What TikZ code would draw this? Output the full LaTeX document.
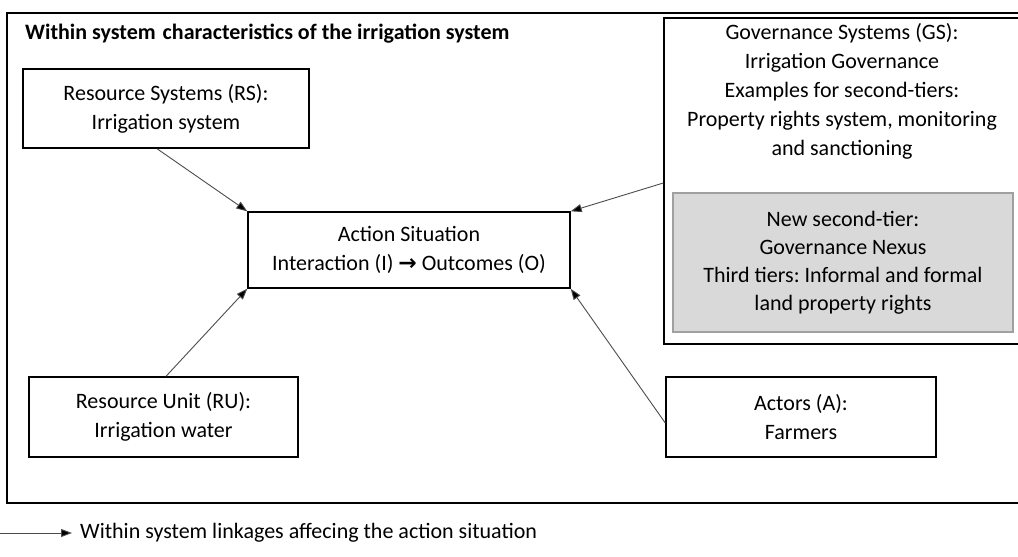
\documentclass[tikz,border=0pt]{standalone}
\usepackage{fontspec}
\setmainfont{Carlito}
\newfontfamily\arrowfont{DejaVu Sans}
\usetikzlibrary{arrows.meta}
\definecolor{grayfill}{HTML}{D9D9D9}
\definecolor{grayline}{HTML}{A0A0A0}
\frenchspacing
\begin{document}
\begin{tikzpicture}[x=1pt,y=-1pt,
  box/.style={draw=black, line width=1.4pt, inner sep=0pt},
  lbl/.style={align=center, font=\fontsize{22}{29}\selectfont\frenchspacing, text=black},
  link/.style={draw=black!70, line width=0.9pt, -{Triangle[length=11pt,width=8pt,fill=black]}},
]
\useasboundingbox (0,0) rectangle (1018,557);
\clip (0,0) rectangle (1018,557);
% outer frame
\draw[line width=1.4pt] (7,13) rectangle (1030,503);
\node[anchor=west, font=\fontsize{22}{24}\selectfont\bfseries, inner sep=0pt] (title) at (25,34) {Within system\hspace{2pt} characteristics of the irrigation system};
% boxes
\node[box, lbl, minimum width=286pt, minimum height=79pt] (rs) at (166,108.5) {Resource Systems (RS):\\Irrigation system};
\node[box, lbl, minimum width=322pt, minimum height=76pt] (as) at (409,250) {Action Situation\\Interaction (I) {\arrowfont\bfseries\fontsize{22}{29}\selectfont\symbol{"2192}} Outcomes (O)};
\node[box, lbl, minimum width=269pt, minimum height=80pt] (ru) at (163.5,417) {Resource Unit (RU):\\Irrigation water};
\node[box, lbl, minimum width=270pt, minimum height=80pt] (act) at (801,417) {Actors (A):\\Farmers};
\node[box, minimum width=366pt, minimum height=326pt] (gs) at (847,181) {};
\node[lbl, font=\fontsize{22}{29}\selectfont\frenchspacing] (gstext) at (842,91) {Governance Systems (GS):\\Irrigation Governance\\Examples for second-tiers:\\Property rights system, monitoring\\and sanctioning};
\node[draw=grayline, fill=grayfill, line width=1.4pt, inner sep=0pt, lbl, font=\fontsize{22}{28}\selectfont\frenchspacing, minimum width=340pt, minimum height=139pt] (nexus) at (843,262.5) {New second-tier:\\Governance Nexus\\Third tiers: Informal and formal\\land property rights};
% connectors
\draw[link] ([xshift=-9pt]rs.south) -- (as.north west);
\draw[link] ([xshift=2.5pt]ru.north) -- (as.south west);
\draw[link] ([yshift=-2pt]gs.west) -- (as.north east);
\draw[link] ([yshift=-6pt]act.west) -- (as.south east);
% legend
\coordinate (lstart) at (0,533);
\node[anchor=west, lbl, inner sep=0pt] (legend) at (80,533) {Within system linkages affecing the action situation};
\draw[link] (lstart) -- ([xshift=-8pt]legend.west);
\end{tikzpicture}
\end{document}
